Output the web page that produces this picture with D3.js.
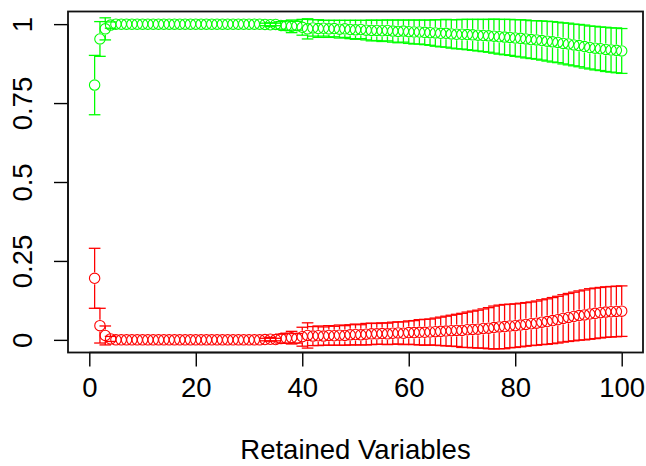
<!DOCTYPE html>
<html>
<head>
<meta charset="utf-8">
<script src="https://cdn.jsdelivr.net/npm/d3@7"></script>
<style>
  html, body { margin: 0; padding: 0; background: #fff; }
  svg { display: block; }
  text { font-family: "Liberation Sans", Arial, sans-serif; fill: #000; }
</style>
</head>
<body>
<svg id="chart" width="646" height="466"></svg>
<script>
// Number of retained variables (1..100)
const retained = d3.range(1, 101);

// Accuracy: mean and half-width of the interval at each size
const accMean = [
  0.807, 0.953, 0.985, 0.997, 1, 1, 1, 1, 1, 1,
  1, 1, 1, 1, 1, 1, 1, 1, 1, 1,
  1, 1, 1, 1, 1, 1, 1, 1, 1, 1,
  1, 1, 0.999, 0.998, 0.999, 0.996, 0.995, 0.993, 0.995, 0.990,
  0.985, 0.988, 0.986, 0.987, 0.985, 0.986, 0.984, 0.985, 0.983, 0.982,
  0.983, 0.981, 0.980, 0.980, 0.979, 0.980, 0.978, 0.977, 0.978, 0.976,
  0.975, 0.975, 0.974, 0.973, 0.972, 0.971, 0.971, 0.969, 0.968, 0.968,
  0.967, 0.966, 0.965, 0.964, 0.963, 0.962, 0.960, 0.959, 0.958, 0.956,
  0.955, 0.953, 0.951, 0.950, 0.948, 0.946, 0.944, 0.942, 0.939, 0.937,
  0.934, 0.932, 0.929, 0.926, 0.924, 0.922, 0.920, 0.918, 0.917, 0.915
];
const accErr = [
  0.094, 0.055, 0.035, 0.010, 0, 0, 0, 0, 0, 0,
  0, 0, 0, 0, 0, 0, 0, 0, 0, 0,
  0, 0, 0, 0, 0, 0, 0, 0, 0, 0,
  0, 0, 0.004, 0.006, 0.004, 0.012, 0.015, 0.020, 0.014, 0.025,
  0.032, 0.026, 0.028, 0.025, 0.027, 0.026, 0.028, 0.027, 0.029, 0.030,
  0.029, 0.031, 0.033, 0.032, 0.034, 0.033, 0.035, 0.036, 0.035, 0.037,
  0.038, 0.038, 0.039, 0.040, 0.042, 0.043, 0.044, 0.045, 0.046, 0.047,
  0.048, 0.049, 0.050, 0.051, 0.052, 0.054, 0.055, 0.056, 0.057, 0.058,
  0.059, 0.060, 0.060, 0.061, 0.062, 0.063, 0.064, 0.064, 0.065, 0.066,
  0.066, 0.067, 0.068, 0.068, 0.069, 0.069, 0.070, 0.070, 0.071, 0.071
];

// Error rate: mean and half-width of the interval at each size
const errMean = [
  0.195, 0.045, 0.014, 0.003, 0, 0, 0, 0, 0, 0,
  0, 0, 0, 0, 0, 0, 0, 0, 0, 0,
  0, 0, 0, 0, 0, 0, 0, 0, 0, 0,
  0, 0, 0.001, 0.002, 0.001, 0.004, 0.005, 0.007, 0.005, 0.010,
  0.014, 0.012, 0.013, 0.012, 0.014, 0.013, 0.015, 0.014, 0.016, 0.017,
  0.016, 0.018, 0.019, 0.019, 0.020, 0.019, 0.021, 0.022, 0.021, 0.023,
  0.023, 0.024, 0.024, 0.025, 0.026, 0.027, 0.028, 0.029, 0.030, 0.030,
  0.032, 0.033, 0.034, 0.036, 0.037, 0.039, 0.041, 0.042, 0.044, 0.045,
  0.047, 0.049, 0.051, 0.053, 0.056, 0.058, 0.061, 0.064, 0.068, 0.071,
  0.074, 0.077, 0.079, 0.082, 0.084, 0.086, 0.088, 0.089, 0.090, 0.091
];
const errErr = [
  0.095, 0.055, 0.030, 0.008, 0, 0, 0, 0, 0, 0,
  0, 0, 0, 0, 0, 0, 0, 0, 0, 0,
  0, 0, 0, 0, 0, 0, 0, 0, 0, 0,
  0, 0, 0.004, 0.006, 0.004, 0.014, 0.016, 0.020, 0.015, 0.030,
  0.040, 0.030, 0.031, 0.029, 0.031, 0.030, 0.032, 0.031, 0.032, 0.033,
  0.032, 0.034, 0.034, 0.033, 0.034, 0.034, 0.035, 0.035, 0.036, 0.037,
  0.038, 0.040, 0.041, 0.041, 0.043, 0.045, 0.047, 0.049, 0.051, 0.054,
  0.056, 0.058, 0.060, 0.062, 0.065, 0.068, 0.069, 0.070, 0.069, 0.069,
  0.069, 0.069, 0.069, 0.070, 0.071, 0.072, 0.073, 0.074, 0.075, 0.076,
  0.077, 0.078, 0.079, 0.080, 0.080, 0.080, 0.080, 0.080, 0.080, 0.080
];

const xTicks = [0, 20, 40, 60, 80, 100];
const yTicks = [0, 0.25, 0.5, 0.75, 1];
const yTickLabels = ["0", "0.25", "0.5", "0.75", "1"];
const xTitle = "Retained Variables";

const svg = d3.select("#chart");

// Plot region (box) in pixels
const plotLeft = 68, plotRight = 643, plotTop = 11.5, plotBottom = 352.5;

const x = d3.scaleLinear().domain([-4, 104]).range([plotLeft, plotRight]);
const y = d3.scaleLinear().domain([-0.04, 1.04]).range([plotBottom, plotTop]);

const fontSize = 27.5;

// X axis
const xAxis = d3.axisBottom(x).tickValues(xTicks).tickSize(14).tickPadding(11)
  .tickFormat(d3.format("d"));
const gx = svg.append("g").attr("transform", `translate(0,${plotBottom})`).call(xAxis);
gx.select(".domain").attr("d", `M${x(0)},0H${x(100)}`).attr("stroke", "#000").attr("stroke-width", 1.4);
gx.selectAll(".tick line").attr("stroke", "#000").attr("stroke-width", 1.4);
gx.selectAll(".tick text").attr("font-size", fontSize).attr("fill", "#000")
  .attr("font-family", "Liberation Sans, Arial, sans-serif");

// Y axis with labels rotated parallel to the axis
const yAxis = d3.axisLeft(y).tickValues(yTicks).tickSize(14)
  .tickFormat((d, i) => yTickLabels[i]);
const gy = svg.append("g").attr("transform", `translate(${plotLeft},0)`).call(yAxis);
gy.select(".domain").attr("d", `M0,${y(0)}V${y(1)}`).attr("stroke", "#000").attr("stroke-width", 1.4);
gy.selectAll(".tick line").attr("stroke", "#000").attr("stroke-width", 1.4);
gy.selectAll(".tick text")
  .attr("font-size", fontSize).attr("fill", "#000")
  .attr("font-family", "Liberation Sans, Arial, sans-serif")
  .attr("x", null).attr("dy", null)
  .attr("text-anchor", "middle")
  .attr("transform", "translate(-36,0) rotate(-90)");

// Plot box
svg.append("rect")
  .attr("x", plotLeft).attr("y", plotTop)
  .attr("width", plotRight - plotLeft).attr("height", plotBottom - plotTop)
  .attr("fill", "none").attr("stroke", "#111").attr("stroke-width", 1.8);

// Axis title
svg.append("text")
  .attr("x", (plotLeft + plotRight) / 2).attr("y", 459)
  .attr("text-anchor", "middle").attr("font-size", fontSize)
  .text(xTitle);

// Interval bars with serifs, broken around each open circle
const r = 5.2, gap = 6, cap = 5.8;
function drawSeries(means, errs, color) {
  const g = svg.append("g");
  const rows = retained.map((v, i) => ({ v, m: means[i], e: errs[i] }));
  rows.forEach(d => {
    const cx = x(d.v), cy = y(d.m);
    const yHi = y(d.m + d.e), yLo = y(d.m - d.e);
    if (d.e <= 0) return;
    if (cy - gap > yHi) {
      g.append("line").attr("x1", cx).attr("x2", cx).attr("y1", cy - gap).attr("y2", yHi)
        .attr("stroke", color).attr("stroke-width", 1.3);
    }
    if (cy + gap < yLo) {
      g.append("line").attr("x1", cx).attr("x2", cx).attr("y1", cy + gap).attr("y2", yLo)
        .attr("stroke", color).attr("stroke-width", 1.3);
    }
    [yHi, yLo].forEach(yy => {
      g.append("line").attr("x1", cx - cap).attr("x2", cx + cap).attr("y1", yy).attr("y2", yy)
        .attr("stroke", color).attr("stroke-width", 1.3);
    });
  });
  g.selectAll("circle").data(rows).join("circle")
    .attr("cx", d => x(d.v)).attr("cy", d => y(d.m)).attr("r", r)
    .attr("fill", "none").attr("stroke", color).attr("stroke-width", 1.1);
}

drawSeries(accMean, accErr, "#00ff00");
drawSeries(errMean, errErr, "#ff0000");
</script>
</body>
</html>
